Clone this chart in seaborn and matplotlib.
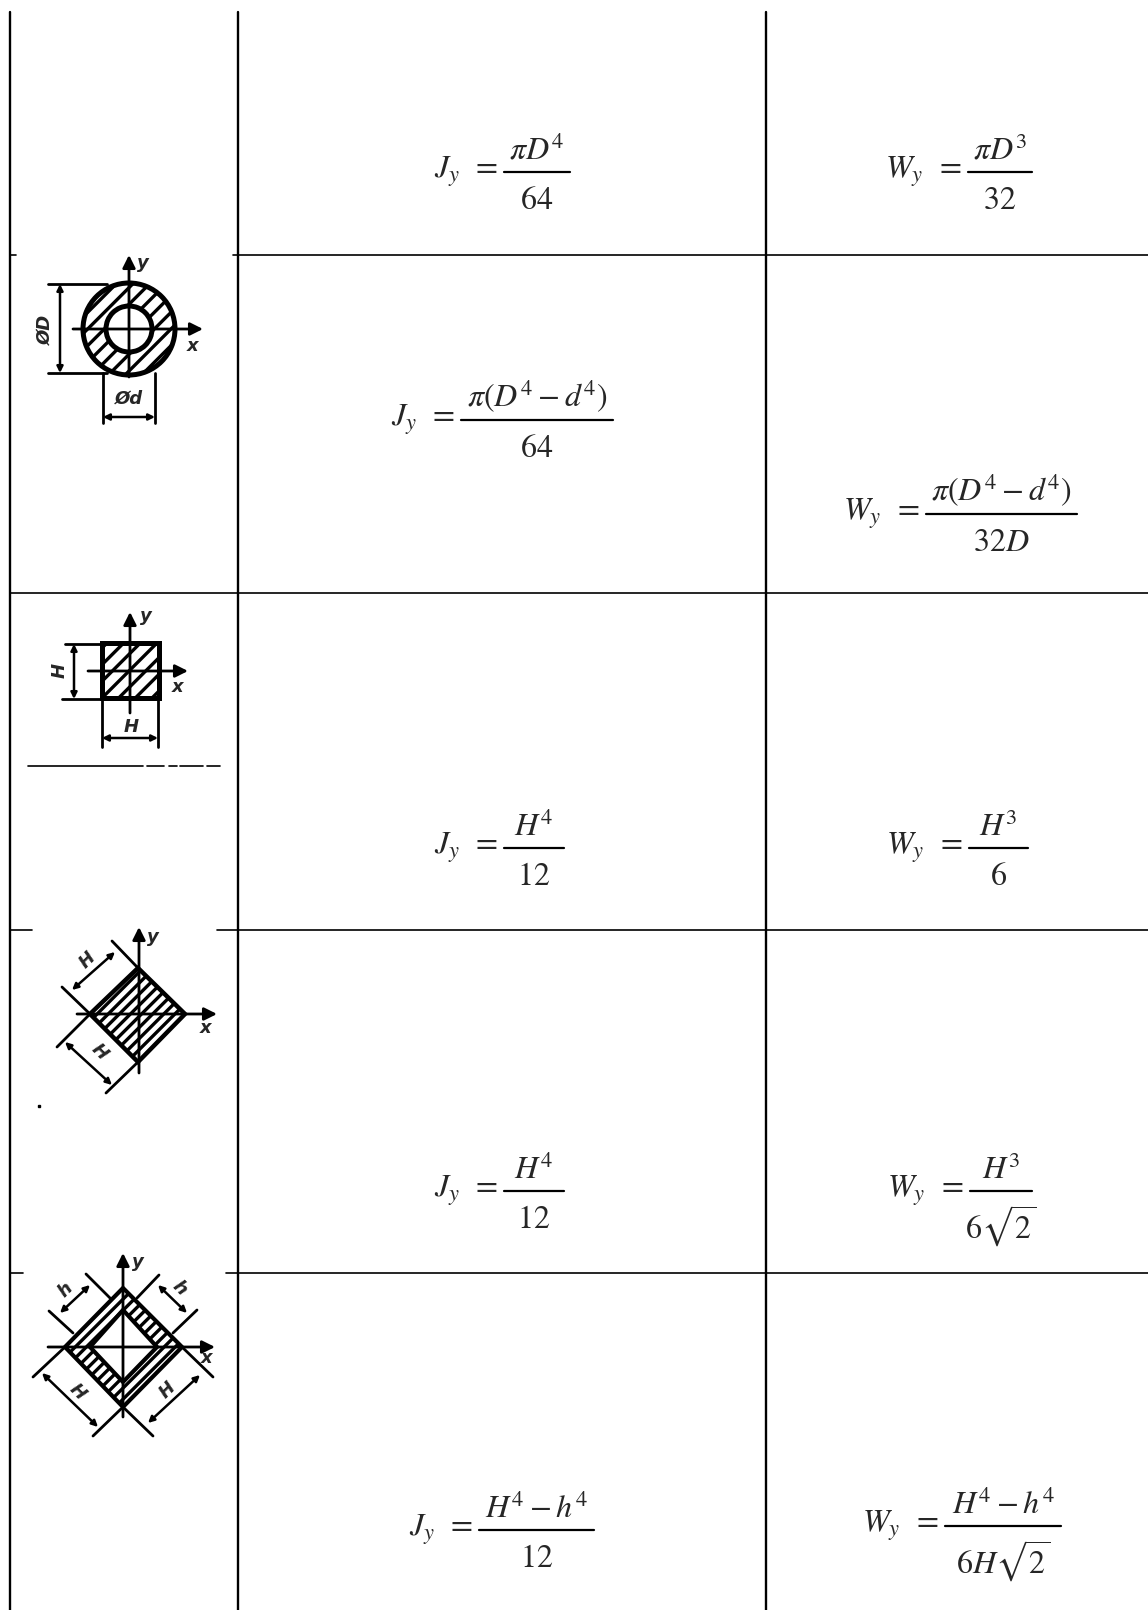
import matplotlib
matplotlib.use("Agg")
import matplotlib.pyplot as plt
import pandas as pd
import seaborn as sns
from matplotlib.patches import PathPatch, Polygon, Wedge
from matplotlib.path import Path

# table rules, pixel units of the picture: x0, y0, x1, y1
vertical_rules = [(10, 12, 10, 1610), (238, 12, 238, 1610), (766, 12, 766, 1610)]
horizontal_rules = [(11, 255, 16, 255), (233, 255, 1148, 255), (10, 593, 1148, 593),
                    (10, 930, 32, 930), (217, 930, 1148, 930), (10, 1273, 23, 1273),
                    (226, 1273, 1148, 1273), (28, 766, 143, 766), (147, 766, 164, 766),
                    (169, 766, 177, 766), (180, 766, 203, 766), (207, 766, 220, 766)]

# formulas: left side, numerator, denominator, fraction rule x0, x1, y
formula_lhs = ["J_y", "W_y", "J_y", "W_y", "J_y", "W_y", "J_y", "W_y", "J_y", "W_y"]
formula_num = [r"\pi D^4", r"\pi D^3", r"\pi\left(D^4-d^4\right)", r"\pi\left(D^4-d^4\right)",
               "H^4", "H^3", "H^4", "H^3", "H^4-h^4", "H^4-h^4"]
formula_den = ["64", "32", "64", "32D", "12", "6", "12", r"6\sqrt{2}", "12", r"6H\sqrt{2}"]
rule_x0 = [504, 968, 461, 926, 504, 969, 504, 970, 479, 945]
rule_x1 = [570, 1032, 613, 1077, 564, 1028, 564, 1032, 594, 1061]
rule_y = [172, 172, 420, 514, 848, 848, 1191, 1191, 1530, 1526]

# drawing 1, ring section
ring_center = (129, 329)
ring_outer, ring_inner = 46, 23
ring_lines = [(48, 284, 107, 284), (48, 373, 107, 373), (103, 373, 103, 423), (155, 373, 155, 423)]
ring_dims = [(60, 284, 60, 373), (103, 417, 155, 417)]
ring_axes = [(129, 377, 129, 255), (73, 329, 203, 329)]

# drawing 2, square section
square_box = [(102, 643), (159, 643), (159, 698), (102, 698)]
square_lines = [(65, 644, 102, 644), (62, 699, 102, 699), (102, 698, 102, 747), (158, 698, 158, 747)]
square_dims = [(74, 644, 74, 699), (102, 738, 158, 738)]
square_axes = [(130, 713, 130, 612), (88, 671, 188, 671)]

# drawing 3, square on its corner
diamond_box = [(138, 968), (185, 1014), (138, 1062), (90, 1014)]
diamond_lines = [(138, 968, 112, 941), (90, 1014, 62, 987), (90, 1014, 57, 1047), (138, 1062, 106, 1093)]
diamond_dims = [(72, 990, 115, 952), (65, 1042, 112, 1085)]
diamond_axes = [(139, 1073, 139, 927), (77, 1014, 217, 1014)]

# drawing 4, hollow square on its corner
hollow_outer = [(123, 1288), (182, 1347), (123, 1407), (65, 1347)]
hollow_inner = [(123, 1310), (157, 1347), (123, 1382), (90, 1347)]
hollow_lines = [(110, 1298, 86, 1274), (73, 1333, 49, 1311), (137, 1298, 159, 1275),
                (173, 1333, 197, 1310), (65, 1347, 33, 1377), (123, 1407, 93, 1436),
                (182, 1347, 213, 1377), (123, 1407, 153, 1436)]
hollow_dims = [(60, 1313, 90, 1285), (158, 1285, 187, 1313), (42, 1373, 98, 1427), (200, 1375, 148, 1423)]
hollow_axes = [(123, 1417, 123, 1253), (48, 1347, 215, 1347)]

# drawing labels: text, x, y, rotation
labels = [("y", 143, 263, 0), ("x", 193, 346, 0), ("ØD", 45, 330, 90), ("Ød", 129, 399, 0),
          ("y", 146, 616, 0), ("x", 178, 687, 0), ("H", 60, 670, 90), ("H", 131, 727, 0),
          ("y", 153, 937, 0), ("x", 206, 1028, 0), ("H", 87, 960, 45), ("H", 100, 1052, -45),
          ("y", 138, 1262, 0), ("x", 207, 1358, 0), ("h", 65, 1290, 45), ("h", 180, 1288, -45),
          ("H", 78, 1392, -45), ("H", 167, 1390, 45)]


def segments_frame(segments):
    rows = []
    for i, (x0, y0, x1, y1) in enumerate(segments):
        rows.append({"seg": i, "x": x0, "y": y0})
        rows.append({"seg": i, "x": x1, "y": y1})
    return pd.DataFrame(rows)


def draw_segments(ax, segments, width):
    sns.lineplot(data=segments_frame(segments), x="x", y="y", units="seg", estimator=None,
                 sort=False, color="black", linewidth=width, legend=False, ax=ax)


def draw_arrows(ax, segments, style, scale=9, width=1.5):
    for x0, y0, x1, y1 in segments:
        ax.annotate("", xy=(x1, y1), xytext=(x0, y0),
                    arrowprops=dict(arrowstyle=style, color="black", lw=width,
                                    mutation_scale=scale, shrinkA=0, shrinkB=0))


sns.set_theme(style="white")
plt.rcParams["mathtext.fontset"] = "stix"
plt.rcParams["hatch.linewidth"] = 2.4

fig = plt.figure(figsize=(11.48, 16.10), dpi=100)
ax = fig.add_axes([0, 0, 1, 1])

draw_segments(ax, vertical_rules, 1.7)
draw_segments(ax, horizontal_rules, 1.2)

# formulas
for lhs, num, den, x0, x1, y in zip(formula_lhs, formula_num, formula_den, rule_x0, rule_x1, rule_y):
    xm = (x0 + x1) / 2
    ax.text(x0 - 6, y, rf"${lhs}\ \,=$", ha="right", va="center", fontsize=23)
    ax.text(xm, y - 5, rf"${num}$", ha="center", va="bottom", fontsize=23)
    ax.text(xm, y + 13, rf"${den}$", ha="center", va="top", fontsize=23)
draw_segments(ax, list(zip(rule_x0, rule_y, rule_x1, rule_y)), 1.6)

# sections
ax.add_patch(Wedge(ring_center, ring_outer, 0, 360, width=ring_outer - ring_inner, fc="white",
                   ec="black", lw=3.6, hatch="//"))
ax.add_patch(Polygon(square_box, closed=True, fc="white", ec="black", lw=3.6, hatch="//"))
ax.add_patch(Polygon(diamond_box, closed=True, fc="white", ec="black", lw=3.2, hatch="///"))
hollow_path = Path.make_compound_path(Path(hollow_outer + hollow_outer[:1], closed=True),
                                      Path(hollow_inner[::-1] + hollow_inner[-1:], closed=True))
ax.add_patch(PathPatch(hollow_path, fc="white", ec="black", lw=3, hatch="///"))

# dimension and axis lines
draw_segments(ax, ring_lines + square_lines + diamond_lines + hollow_lines, 2)
draw_arrows(ax, ring_dims + square_dims + diamond_dims + hollow_dims, "<|-|>", 9, 1.8)
draw_arrows(ax, ring_axes + square_axes + diamond_axes + hollow_axes, "-|>", 19, 2)

for text, x, y, rot in labels:
    ax.text(x, y, text, ha="center", va="center", rotation=rot, fontsize=13,
            fontweight="bold", fontstyle="italic", family="DejaVu Sans")
ax.plot([39], [1106], marker="s", markersize=1.5, color="black")

ax.set_xlim(0, 1148)
ax.set_ylim(1610, 0)
ax.axis("off")
fig.savefig("out.png", dpi=100, facecolor="white")
